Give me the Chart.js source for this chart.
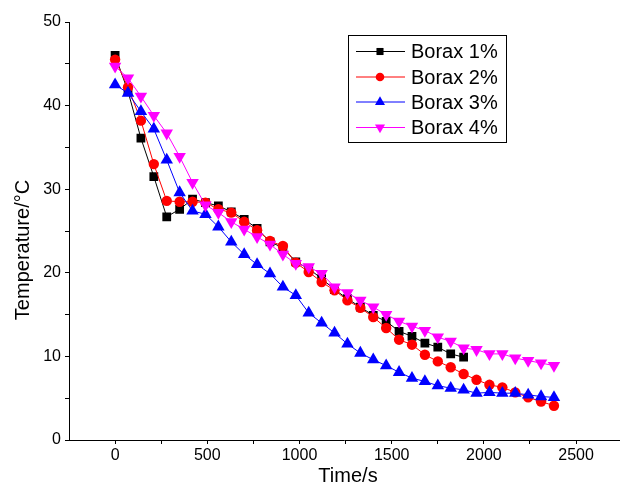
<!DOCTYPE html>
<html>
<head>
<meta charset="utf-8">
<script src="https://cdn.jsdelivr.net/npm/chart.js@4"></script>
<style>
  body { margin: 0; background: #fff; }
  #wrap { width: 627px; height: 490px; }
</style>
</head>
<body>
<div id="wrap"><canvas id="cooling"></canvas></div>
<script>
// time stamps (s), one reading every 70 s
const times = [0, 70, 140, 210, 280, 350, 420, 490, 560, 630, 700, 770, 840, 910, 980,
    1050, 1120, 1190, 1260, 1330, 1400, 1470, 1540, 1610, 1680, 1750, 1820, 1890,
    1960, 2030, 2100, 2170, 2240, 2310, 2380];

const borax1 = [46.0, 41.7, 36.1, 31.5, 26.7, 27.6, 28.8, 28.4, 28.0, 27.3, 26.4, 25.3, 23.7, 23.0,
    21.3, 20.5, 19.3, 18.0, 16.9, 15.9, 14.9, 14.2, 13.0, 12.4, 11.6, 11.1, 10.3, 9.9];
const borax2 = [45.5, 42.2, 38.2, 33.0, 28.6, 28.5, 28.5, 28.4, 27.6, 27.2, 26.1, 25.1, 23.8, 23.2,
    21.2, 20.1, 18.9, 17.9, 16.7, 15.8, 14.7, 13.4, 12.0, 11.4, 10.2, 9.4, 8.7, 7.9,
    7.2, 6.6, 6.3, 5.7, 5.1, 4.6, 4.1];
const borax3 = [42.5, 41.5, 39.3, 37.2, 33.5, 29.6, 27.4, 27.0, 25.5, 23.7, 22.2, 21.0, 19.9, 18.3,
    17.3, 15.2, 14.0, 12.8, 11.5, 10.4, 9.6, 8.9, 8.1, 7.4, 7.0, 6.5, 6.2, 6.0,
    5.6, 5.7, 5.6, 5.6, 5.4, 5.2, 5.1];
const borax4 = [44.7, 43.3, 41.1, 38.8, 36.7, 33.9, 30.8, 28.1, 27.2, 26.1, 25.2, 24.3, 23.4, 22.2,
    21.1, 20.7, 19.9, 18.3, 17.6, 16.7, 15.9, 15.0, 14.2, 13.6, 13.1, 12.3, 11.8, 11.0,
    10.8, 10.3, 10.3, 9.8, 9.5, 9.2, 8.9];

const xTicks = [0, 250, 500, 750, 1000, 1250, 1500, 1750, 2000, 2250, 2500];
const yTicks = [0, 5, 10, 15, 20, 25, 30, 35, 40, 45, 50];

const FONT = '"Liberation Sans", Arial, sans-serif';

function pts(values) {
    return values.map((v, i) => ({ x: times[i], y: v }));
}

function series(label, values, color, style, radius, order, rotation) {
    return {
        label: label,
        data: pts(values),
        borderColor: color,
        backgroundColor: color,
        borderWidth: 1,
        pointStyle: style,
        pointRadius: radius,
        pointRotation: rotation || 0,
        pointBorderWidth: 0,
        pointHoverRadius: radius,
        order: order,   // later series drawn on top, as in the original
        tension: 0
    };
}

// axis titles drawn by hand so they sit where the original has them
const axisTitles = {
    id: 'axisTitles',
    afterDraw(chart) {
        const ctx = chart.ctx;
        ctx.save();
        ctx.fillStyle = '#000';
        ctx.font = '20px ' + FONT;
        ctx.textAlign = 'center';
        ctx.textBaseline = 'middle';
        ctx.fillText('Time/s', 348, 476);
        ctx.translate(23, 250);
        ctx.rotate(-Math.PI / 2);
        ctx.fillText('Temperature/°C', 0, 0);
        ctx.restore();
    }
};

// boxed legend with line + marker samples, like the original
const boxLegend = {
    id: 'boxLegend',
    afterDraw(chart) {
        const ctx = chart.ctx;
        const rowY = [51.5, 77, 102, 127.5];
        ctx.save();
        ctx.strokeStyle = '#000';
        ctx.lineWidth = 1;
        ctx.strokeRect(348.5, 35.5, 158, 107);
        chart.data.datasets.forEach((ds, i) => {
            const y = rowY[i];
            ctx.strokeStyle = ds.borderColor;
            ctx.beginPath();
            ctx.moveTo(356, y);
            ctx.lineTo(405, y);
            ctx.stroke();
            ctx.fillStyle = ds.backgroundColor;
            Chart.helpers.drawPoint(ctx, {
                pointStyle: ds.pointStyle,
                rotation: ds.pointRotation,
                radius: ds.pointStyle === 'circle' ? 4.3 : (ds.pointStyle === 'rect' ? 5 : 5.8),
                borderWidth: 0
            }, 380, y);
            ctx.fillStyle = '#000';
            ctx.font = '20px ' + FONT;
            ctx.textAlign = 'left';
            ctx.textBaseline = 'middle';
            ctx.fillText(ds.label, 411, y + 1);
        });
        ctx.restore();
    }
};

new Chart(document.getElementById('cooling'), {
    type: 'line',
    data: {
        datasets: [
            series('Borax 1%', borax1, '#000000', 'rect', 6.2, 3),
            series('Borax 2%', borax2, '#ff0000', 'circle', 5.2, 2),
            series('Borax 3%', borax3, '#0000ff', 'triangle', 7.2, 1),
            series('Borax 4%', borax4, '#ff00ff', 'triangle', 7.2, 0, 180)
        ]
    },
    options: {
        responsive: true,
        maintainAspectRatio: false,
        animation: false,
        layout: { padding: { top: 22, right: 0, left: 0, bottom: 0 } },
        plugins: {
            legend: { display: false },
            tooltip: { enabled: false }
        },
        scales: {
            x: {
                type: 'linear',
                min: -250,
                max: 2737,
                afterBuildTicks: axis => { axis.ticks = xTicks.map(v => ({ value: v })); },
                afterFit: axis => { axis.height = 50; },
                border: { color: '#000', width: 1 },
                grid: { drawOnChartArea: false, color: '#000', tickLength: 4 },
                ticks: {
                    color: '#000',
                    padding: 2,
                    maxRotation: 0,
                    autoSkip: false,
                    font: { family: FONT, size: 16 },
                    callback: v => (v % 500 === 0 ? String(v) : '')
                }
            },
            y: {
                min: 0,
                max: 50,
                afterBuildTicks: axis => { axis.ticks = yTicks.map(v => ({ value: v })); },
                afterFit: axis => { axis.width = 69; },
                border: { color: '#000', width: 1 },
                grid: { drawOnChartArea: false, color: '#000', tickLength: 4 },
                ticks: {
                    color: '#000',
                    padding: 4,
                    autoSkip: false,
                    font: { family: FONT, size: 16 },
                    callback: v => (v % 10 === 0 ? String(v) : '')
                }
            }
        }
    },
    plugins: [axisTitles, boxLegend]
});
</script>
</body>
</html>
